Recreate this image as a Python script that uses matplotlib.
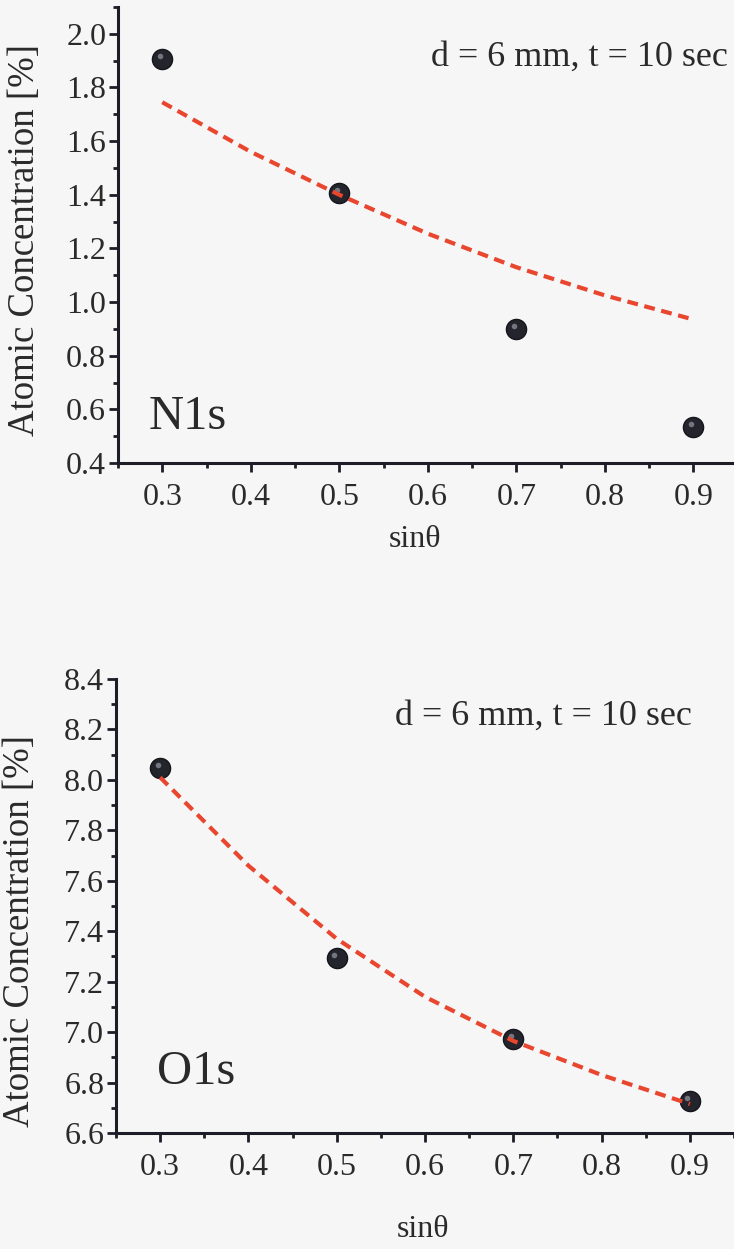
import matplotlib
matplotlib.use('Agg')
import matplotlib.pyplot as plt
import matplotlib.transforms as mtransforms
from matplotlib.ticker import MultipleLocator

plt.rcParams['font.family'] = ['Liberation Serif', 'DejaVu Serif']

# measured data
sin_theta = [0.3, 0.5, 0.7, 0.9]
n1s = [1.905, 1.405, 0.90, 0.535]
o1s = [8.047, 7.295, 6.972, 6.727]

# fitted curves
fit_x = [0.3, 0.4, 0.5, 0.6, 0.7, 0.8, 0.9]
n1s_fit = [1.745, 1.56, 1.40, 1.255, 1.13, 1.025, 0.935]
o1s_fit = [8.01, 7.66, 7.37, 7.14, 6.965, 6.83, 6.715]

note = 'd = 6 mm, t = 10 sec'
bg = '#f6f6f6'
ink = '#1d1d28'
red = '#e8462e'

fig = plt.figure(figsize=(7.34, 12.49), dpi=100, facecolor=bg)
W, H = 734, 1249


def make_ax(left, top, bottom, xlim, ylim, yticks):
    ax = fig.add_axes([left / W, 1 - bottom / H, (W - left) / W, (bottom - top) / H])
    ax.set_facecolor(bg)
    ax.set_xlim(*xlim)
    ax.set_ylim(*ylim)
    for s in ['top', 'right']:
        ax.spines[s].set_visible(False)
    for s in ['left', 'bottom']:
        ax.spines[s].set_linewidth(2.2)
        ax.spines[s].set_color(ink)
    ax.xaxis.set_major_locator(MultipleLocator(0.1))
    ax.xaxis.set_minor_locator(MultipleLocator(0.05))
    ax.yaxis.set_major_locator(MultipleLocator(0.2))
    ax.yaxis.set_minor_locator(MultipleLocator(0.1))
    ax.tick_params(which='major', length=6.5, width=2, color=ink,
                   labelsize=23, labelcolor='#2a2a2a')
    ax.tick_params(axis='y', which='major', pad=2)
    ax.tick_params(axis='x', which='major', pad=8)
    ax.tick_params(which='minor', length=3.5, width=2, color=ink)
    ax.set_xticks([0.3, 0.4, 0.5, 0.6, 0.7, 0.8, 0.9])
    ax.set_yticks(yticks)
    ax.set_yticklabels(['%.1f' % v for v in yticks])
    return ax


def draw(ax, y, yfit):
    ax.plot(sin_theta, y, 'o', ms=14.5, mfc='#24242c', mec='#15151c', mew=1, zorder=3)
    hl = mtransforms.offset_copy(ax.transData, fig=fig, x=-2.5, y=3, units='dots')
    ax.plot(sin_theta, y, 'o', ms=4, mfc='#8a8a95', mec='none', alpha=0.8,
            transform=hl, zorder=4)
    ax.plot(fit_x, yfit, '--', color=red, lw=3, dashes=(2.6, 1.6), zorder=5)


ax1 = make_ax(118, 7, 463, (0.25, 0.946), (0.4, 2.1),
              [0.4, 0.6, 0.8, 1.0, 1.2, 1.4, 1.6, 1.8, 2.0])
draw(ax1, n1s, n1s_fit)
ax1.text(0.99, 0.89, note, transform=ax1.transAxes, ha='right', va='center',
         fontsize=26, color='#2a2a2a')
ax1.text(0.049, 0.1, 'N1s', transform=ax1.transAxes, ha='left', va='center',
         fontsize=35, color='#2a2a2a')
ax1.set_ylabel('Atomic Concentration [%]', fontsize=26.5, color='#2a2a2a')
ax1.yaxis.set_label_coords(-0.124, 0.489)
ax1.set_xlabel('sinθ', fontsize=23, color='#2a2a2a')
ax1.xaxis.set_label_coords(0.482, -0.136)

ax2 = make_ax(116, 679, 1133, (0.25, 0.95), (6.6, 8.4),
              [6.6, 6.8, 7.0, 7.2, 7.4, 7.6, 7.8, 8.0, 8.2, 8.4])
draw(ax2, o1s, o1s_fit)
ax2.text(0.932, 0.918, note, transform=ax2.transAxes, ha='right', va='center',
         fontsize=26, color='#2a2a2a')
ax2.text(0.066, 0.134, 'O1s', transform=ax2.transAxes, ha='left', va='center',
         fontsize=35, color='#2a2a2a')
ax2.set_ylabel('Atomic Concentration [%]', fontsize=26.5, color='#2a2a2a')
ax2.yaxis.set_label_coords(-0.128, 0.445)
ax2.set_xlabel('sinθ', fontsize=23, color='#2a2a2a')
ax2.xaxis.set_label_coords(0.497, -0.181)

fig.savefig('out.png', dpi=100, facecolor=bg)
